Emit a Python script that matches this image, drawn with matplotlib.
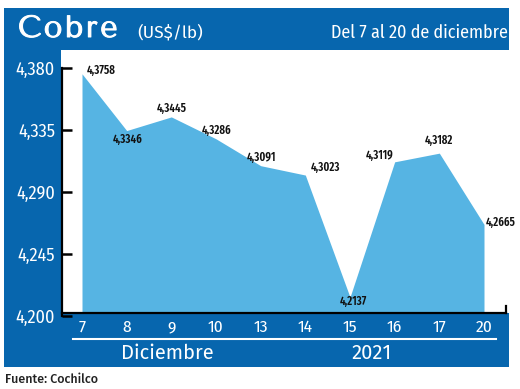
import matplotlib
matplotlib.use("Agg")
import matplotlib.pyplot as plt
import matplotlib.patheffects as pe
from matplotlib.patches import Rectangle
from matplotlib.lines import Line2D

days = ["7", "8", "9", "10", "13", "14", "15", "16", "17", "20"]
values = [4.3758, 4.3346, 4.3445, 4.3286, 4.3091, 4.3023, 4.2137, 4.3119, 4.3182, 4.2665]
value_labels = ["4,3758", "4,3346", "4,3445", "4,3286", "4,3091", "4,3023", "4,2137", "4,3119", "4,3182", "4,2665"]
yticks = [4.200, 4.245, 4.290, 4.335, 4.380]
ytick_labels = ["4,200", "4,245", "4,290", "4,335", "4,380"]

# label offsets in pixels (dx, dy up), alignment
label_pos = [
    (5, 3, "left"),
    (1, -9, "center"),
    (0, 9, "center"),
    (1, 8, "center"),
    (1, 8, "center"),
    (5, 8, "left"),
    (3, -4, "center"),
    (-1, 6, "right"),
    (0, 13, "center"),
    (2, 2, "left"),
]

W, H = 520, 389
BLUE = "#0766AE"
FILL = "#56B4E3"
COND = ["Fira Sans Condensed", "DejaVu Sans"]
XNARROW = ["Fira Sans Extra Condensed", "Fira Sans Condensed", "DejaVu Sans"]
HUMAN = ["Fira Sans", "Lato", "DejaVu Sans"]
TITLE = ["Tenor Sans", "Marcellus", "DejaVu Serif"]

fig = plt.figure(figsize=(W / 100, H / 100), dpi=100)
fig.patch.set_facecolor("white")

def rect(x0, y0, x1, y1, color, z=0):
    fig.patches.append(Rectangle((x0 / W, 1 - y1 / H), (x1 - x0) / W, (y1 - y0) / H,
                                 transform=fig.transFigure, facecolor=color,
                                 edgecolor="none", zorder=z))

# panels
rect(4, 8, 509, 367, BLUE, 0)
rect(61, 50, 509, 313, "white", 1)

# white underline in bottom band
fig.lines.append(Line2D([73 / W, 496 / W], [1 - 339 / H, 1 - 339 / H],
                        transform=fig.transFigure, color="white", lw=1.5, zorder=2))

# axes: 4.200 at y=316 px, 4.380 at y=67.5 px
y_bot, y_top = 316, 67.5
px_per_unit = (y_bot - y_top) / 0.18
ax = fig.add_axes([62 / W, 1 - y_bot / H, 444 / W, (y_bot - 68) / H])
ax.patch.set_alpha(0)
ax.set_zorder(3)
x = list(range(len(days)))
ax.set_xlim(-20 / 44.667, 9 + 22 / 44.667)
ax.set_ylim(4.200, 4.200 + (y_bot - 68) / px_per_unit)
base = 4.200 + 3 / px_per_unit
ax.fill_between(x, values, base, color=FILL, lw=0, zorder=1)

ax.spines["top"].set_visible(False)
ax.spines["left"].set_linewidth(1.6)
ax.spines["bottom"].set_linewidth(1.6)
ax.spines["bottom"].set_position(("data", base))
ax.spines["right"].set_linewidth(1.6)
ax.spines["right"].set_bounds(base, base + 7 / px_per_unit)

ax.set_yticks(yticks)
ax.set_yticklabels(ytick_labels)
ax.tick_params(axis="y", direction="in", length=7.5, width=1.8, pad=5,
               labelcolor="white", labelsize=13)
for t in ax.get_yticklabels():
    t.set_fontfamily(COND)
ax.set_xticks(x)
ax.set_xticklabels(days)
ax.tick_params(axis="x", length=0, pad=4.5, labelcolor="white", labelsize=12.5)
for t in ax.get_xticklabels():
    t.set_fontfamily(COND)

# value labels
for i, (v, lab) in enumerate(zip(values, value_labels)):
    dx, dy, ha = label_pos[i]
    ax.annotate(lab, (i, v), xytext=(dx * 0.72, dy * 0.72), textcoords="offset points",
                ha=ha, va="center", fontsize=8.5, fontweight="semibold", color="#111111",
                family=XNARROW, zorder=5)

def ftext(xp, yp, s, **kw):
    return fig.text(xp / W, 1 - yp / H, s, transform=fig.transFigure, zorder=5, **kw)

# Title with wide letter spacing
renderer = fig.canvas.get_renderer()
cx = 18
for ch in "Cobre":
    t = ftext(cx, 30, ch, color="white", fontsize=22, family=TITLE, ha="left", va="center",
              path_effects=[pe.withStroke(linewidth=0.7, foreground="white")])
    bb = t.get_window_extent(renderer=renderer)
    cx += bb.width + 2.5

ftext(137, 33, "(US$/lb)", color="white", fontsize=12.5, family=HUMAN,
      ha="left", va="center")
ftext(508, 33, "Del 7 al 20 de diciembre", color="white", fontsize=13, family=COND,
      ha="right", va="center")
ftext(167, 353, "Diciembre", color="white", fontsize=14.5, family=HUMAN,
      ha="center", va="center")
ftext(372, 353, "2021", color="white", fontsize=14.5, family=HUMAN,
      ha="center", va="center")
ftext(5, 379, "Fuente: Cochilco", color="#222222", fontsize=9, fontweight="medium",
      family=HUMAN, ha="left", va="center")

fig.savefig("out.png", dpi=100)
